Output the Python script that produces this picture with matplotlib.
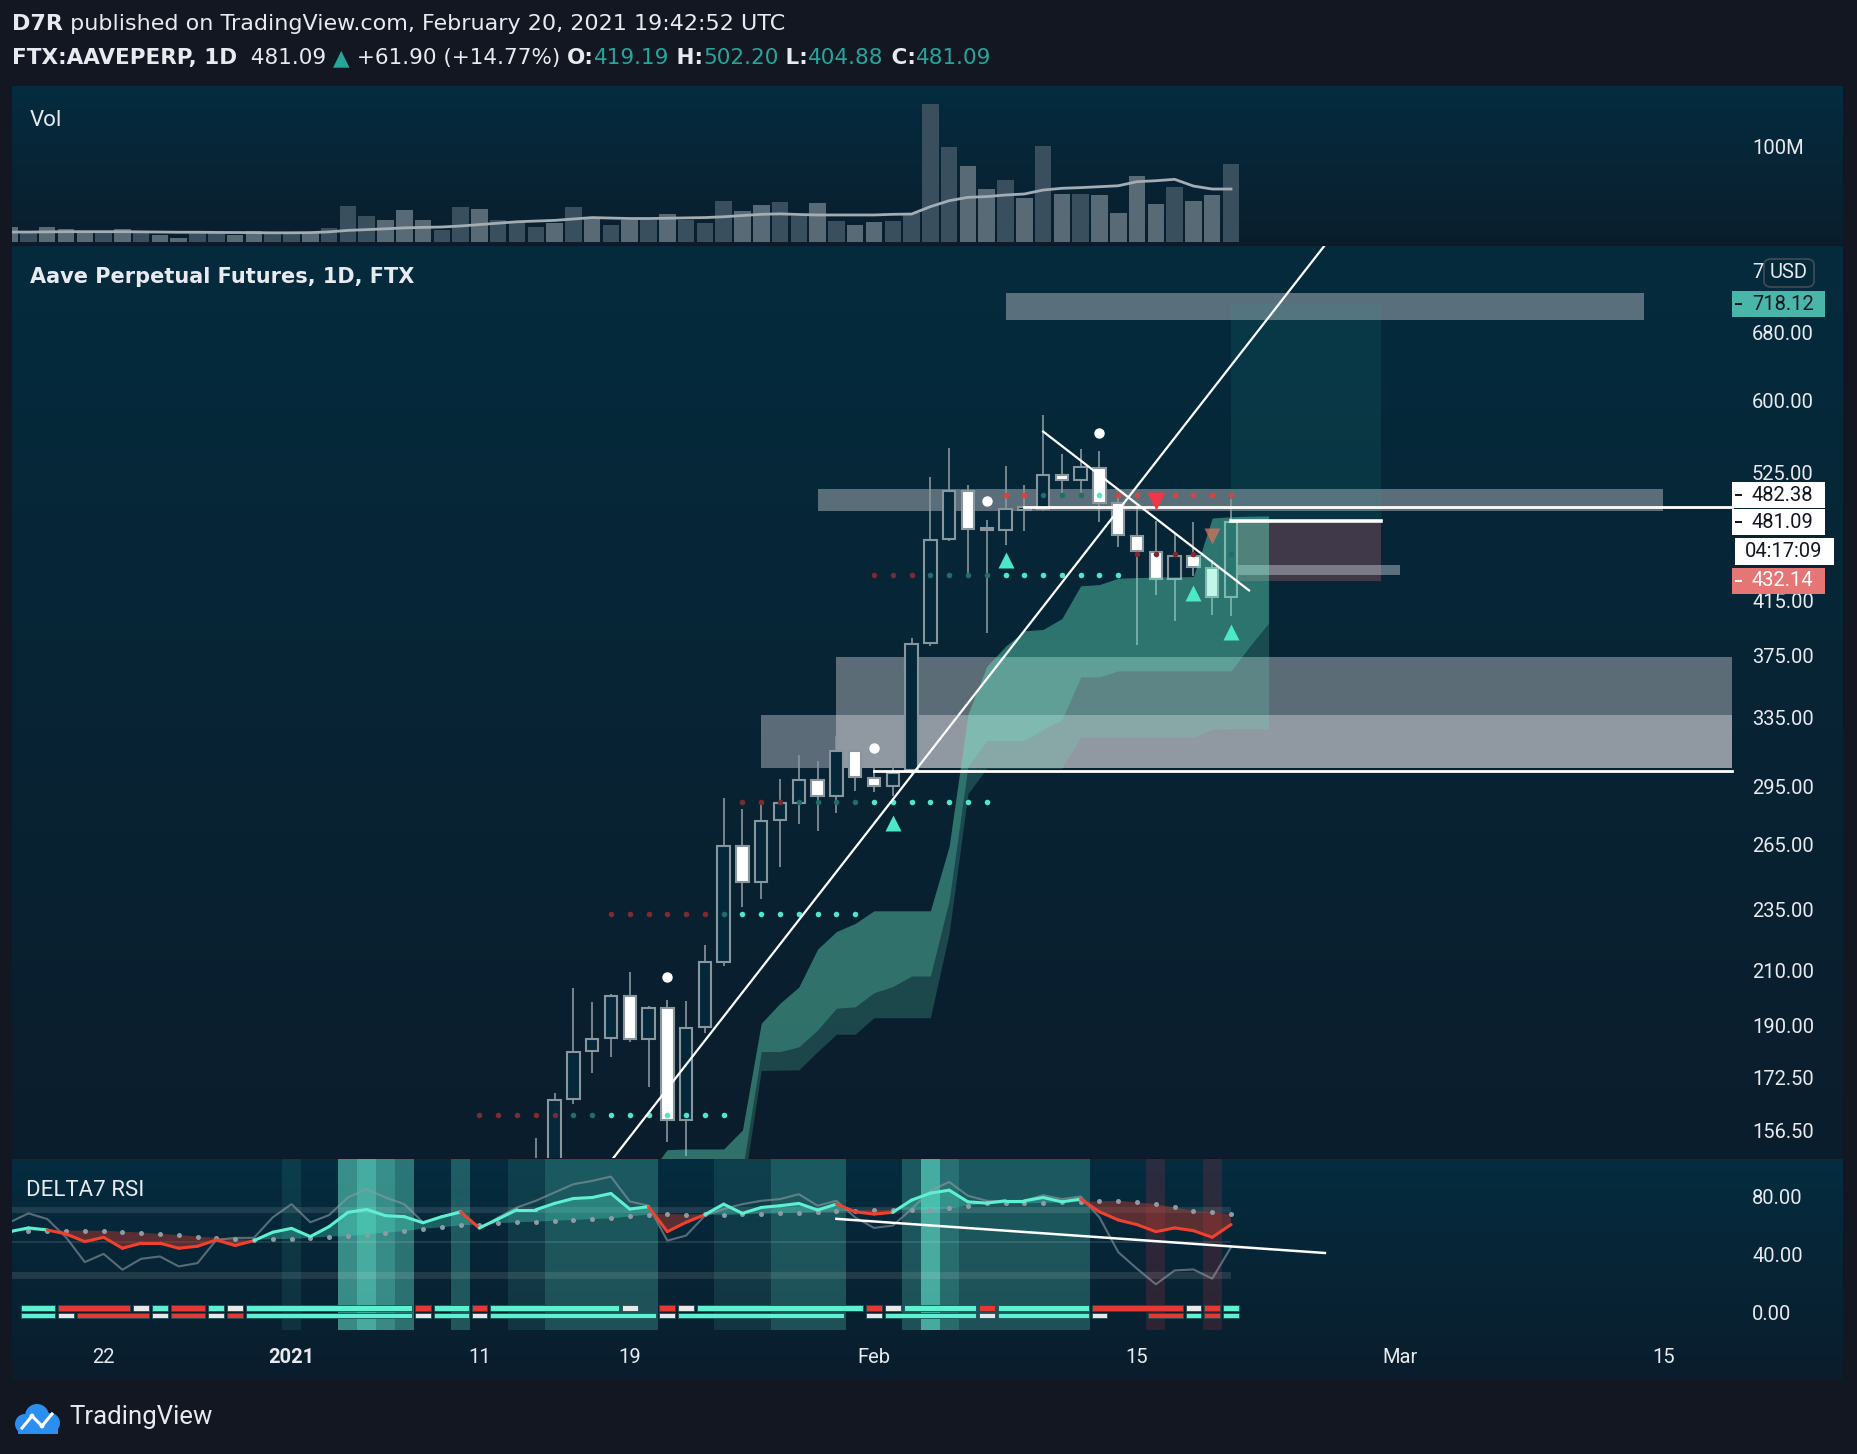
import matplotlib
matplotlib.use("Agg")
import matplotlib.pyplot as plt
import numpy as np
from matplotlib.collections import LineCollection
from matplotlib.colors import to_rgb
from matplotlib.patches import Circle, FancyBboxPatch, Rectangle

plt.rcParams["font.family"] = ["Roboto", "DejaVu Sans"]

# ------------------------------------------------------------------ data
# x values are days counted from 2021-01-01 (Dec 17 = -15, Feb 20 = 50)
days = np.arange(-15, 51)

volume = [16.4, 10.3, 16.4, 14.3, 11.8, 10.3, 14.3, 10.3, 7.8, 4.6,
          10.3, 10.3, 7.8, 12.1, 10.3, 10.3, 10.3, 15.3, 38.9, 28.2,
          23.9, 34.6, 23.9, 13.2, 37.8, 35.7, 23.9, 21.0, 16.4, 20.4,
          37.8, 27.4, 18.5, 23.9, 23.9, 30.3, 23.9, 21.0, 44.3, 33.5,
          40.0, 43.2, 28.2, 42.1, 22.8, 18.5, 21.8, 22.8, 31.1, 148.2,
          102.1, 81.8, 57.1, 66.8, 47.5, 103.2, 51.8, 51.8, 50.7, 31.4,
          71.1, 41.1, 59.3, 44.3, 50.7, 83.9]  # millions
vol_ma = [11.0, 11.0, 11.2, 11.4, 11.4, 11.4, 11.4, 11.2, 11.0, 10.8,
          10.8, 10.6, 10.5, 10.4, 10.2, 10.2, 10.4, 11.2, 12.8, 13.6,
          14.5, 15.5, 16.0, 16.4, 17.5, 19.0, 20.5, 22.0, 22.8, 23.5,
          25.0, 26.5, 26.0, 25.5, 25.5, 25.8, 26.2, 26.5, 27.4, 28.7,
          30.0, 30.5, 29.8, 29.3, 29.3, 29.3, 29.3, 30.0, 30.3, 38.2,
          44.6, 48.2, 49.0, 50.7, 51.8, 56.0, 57.9, 58.6, 59.6, 60.6,
          65.0, 66.0, 67.5, 60.3, 57.1, 57.1]
vol_shade = ("LDLLLDLDLL" "DDLLDDLDDD" "LLLDDLDDDL"
             "DLDLDLDDDL" "LDDLDLLDDD" "DLLDLDLDLL" "LLDLLD")

candle_days = np.arange(13, 51)
c_open = [135, 145, 166.4, 181.8, 186.3, 201.2, 186, 196.7, 160.1, 190,
          214.3, 265, 248.3, 278, 287, 299.7, 290.6, 316.1, 300.8, 295.9,
          305.1, 385.2, 466.7, 509.1, 475, 474.3, 492, 493, 525, 519.7,
          531.9, 498, 469.5, 455.2, 433.6, 452, 442.1, 419.19]
c_high = [155, 168.3, 204.2, 199, 202, 210.3, 197.5, 199.9, 199.5, 221.1,
          289.6, 283.8, 287.7, 300, 313.7, 310.2, 324.8, 317, 307, 311.8,
          388.8, 522.7, 551.3, 515.3, 483.3, 533.7, 515, 585.9, 545.3, 550.4,
          548.5, 504, 498, 482, 471.7, 481.5, 448.7, 502.20]
c_low = [128, 140, 165, 174.8, 180, 185, 170.2, 154, 150, 188,
         212.5, 237.2, 240.8, 255, 276, 272.4, 282, 293.7, 292.9, 290.6,
         303, 383, 465, 436.8, 392.4, 461.5, 473, 491, 505, 508,
         481, 460, 384, 421, 400.9, 436, 405.8, 404.88]
c_close = [147, 166.3, 181.7, 186.1, 201.4, 186, 197, 160.1, 189.6, 214.1,
           265, 248.4, 277.9, 287, 299.7, 290.5, 316.1, 301.3, 295.9, 303.6,
           384.7, 465.8, 509.1, 475.4, 474, 492.7, 493, 525, 519.8, 532.1,
           498.3, 470, 456.6, 433.6, 452.4, 443.4, 419.19, 481.09]

# ichimoku-like cloud (days 19..52)
cloud_days = np.arange(19, 53)
cloud_top = [145, 151.7, 151.9, 151.9, 151.9, 157.3, 191.4, 198.6, 204.6, 219.4,
             226.6, 230.0, 235.4, 235.4, 235.4, 235.4, 265, 338, 369, 383,
             394, 395, 403, 428, 429, 434, 434.5, 435, 435, 435.3,
             484.8, 486, 486.5, 486.7]
cloud_mid = [135, 138, 140, 141, 142, 146, 181.7, 181.7, 183.3, 189.1,
             196.8, 197.3, 202.5, 204.8, 208.8, 208.8, 240, 307, 322, 322,
             322, 328.7, 334.5, 362, 362, 366, 366, 366, 366, 366,
             366, 366, 383, 399.6]
cloud_bot = [130, 132, 134, 135, 136, 140, 175.5, 175.6, 175.7, 181.7,
             187.6, 187.6, 193.4, 193.4, 193.4, 193.4, 226, 292, 306, 306,
             306, 306, 306, 324, 324, 324, 324, 324, 324, 324,
             328.7, 329, 329, 329]

# grey supply / demand zones (None = runs to the price scale)
zone_from = [38, 28, 29, 25]
zone_to = [72, 73, None, None]
zone_low = [697.7, 491.6, 306.3, 306.3]
zone_high = [733.6, 511.2, 375.2, 337.2]

# horizontal rays and trend lines
ray_price = [494.7, 304.5]
ray_from = [39, 31]
trend_d = [(16.0, 56.0), (40.0, 50.96)]
trend_p = [(142.1, 837.4), (568.5, 424.4)]

# long position tool
pos_from, pos_to = 50, 58
entry, target, stop = 482.38, 718.12, 432.14
last_close = 481.09

# dotted levels: price, first day, colour code per day
level_price = [161.6, 234.2, 287.8, 437.0, 506.2, 453.7]
level_start = [10, 17, 24, 31, 38, 45]
level_codes = ["rrrrrggccccccc", "rrrrrrgccccccc", "rrrggggccccccc",
               "rrrggggccccccc", "RRgggcRRRRRRR", "rrrr g"]

dot_days = [20, 31, 37, 43]
dot_price = [208.5, 317.8, 500, 566.8]
up_days = [32, 38, 48, 50]
up_price = [276.9, 448.9, 422.7, 393.0]
down_days = [46]
down_price = [500]
warn_days = [49]
warn_price = [468.7]

price_ticks = [680, 600, 525, 415, 375, 335, 295, 265, 235, 210, 190, 172.5, 156.5]

# DELTA7 RSI
rsi = [57.2, 59.8, 58.4, 55.6, 50.3, 53.3, 45.7, 49.2, 49.2, 45.7,
       47.1, 51.5, 47.6, 51.0, 56.8, 59.5, 53.8, 60.7, 70.6, 72.6,
       68.3, 67.6, 63.4, 67.6, 70.8, 59.8, 66.0, 72.4, 72.4, 76.8,
       80.2, 80.9, 83.7, 72.9, 74.5, 57.2, 63.7, 69.0, 76.3, 69.9,
       74.0, 75.2, 76.8, 72.2, 76.3, 71.0, 69.4, 70.6, 79.1, 83.9,
       86.0, 77.9, 77.0, 78.6, 78.6, 80.9, 77.9, 79.8, 71.0, 65.3,
       62.1, 57.2, 59.8, 57.9, 53.3, 62.1]
rsi_signal = [57.9, 57.9, 57.9, 57.9, 57.9, 57.9, 57.2, 56.6, 55.6, 54.9,
              53.8, 52.9, 52.2, 51.5, 52.0, 52.2, 52.9, 53.8, 54.3, 55.2,
              56.6, 57.5, 59.3, 60.2, 61.6, 62.1, 63.0, 63.7, 64.1, 64.8,
              65.3, 66.0, 66.4, 67.8, 69.0, 69.5, 69.0, 69.3, 68.8, 69.2,
              69.6, 70.0, 70.4, 70.8, 71.2, 71.8, 72.2, 72.4, 72.4, 72.4,
              73.3, 75.2, 76.8, 76.8, 76.8, 77.2, 77.5, 77.8, 78.2, 78.6,
              77.5, 76.3, 74.0, 71.7, 70.6, 69.4]
rsi_raw = [63.7, 69.9, 66.0, 53.3, 36.1, 41.8, 30.8, 38.4, 40.0, 33.1,
           35.4, 51.5, 52.9, 52.9, 67.1, 76.3, 63.7, 68.7, 80.9, 86.7,
           80.9, 76.3, 63.7, 67.1, 71.7, 59.1, 67.1, 74.0, 78.6, 84.4,
           90.1, 92.4, 95.4, 78.2, 75.2, 51.0, 54.5, 68.3, 72.9, 76.3,
           78.6, 79.8, 83.2, 75.2, 78.6, 67.1, 59.8, 61.4, 72.9, 85.5,
           91.7, 82.1, 78.6, 78.2, 78.6, 82.5, 79.8, 81.6, 67.1, 43.0,
           31.5, 20.7, 30.3, 31.0, 24.6, 46.4]
row1 = ("_TTRRRRWTR" "RTWTTTTTTT" "TTRTTRTTTT"
        "TTTW_RWTTT" "TTTTTTRWTT" "TTRTTTTTRR" "RRRWRT")
row2 = ("_TTWRRRRWR" "RWRTTTTTTT" "TTWTTWTTTT"
        "TTTTTWTTTT" "TTTTT_WTTT" "TTWTTTTTW_" "_RRTRT")
hl_days = [0, 3, 4, 5, 6, 9, 12, 13, 14, 15, 16, 17, 18, 19, 23, 24, 25,
           26, 27, 28, 29, 33, 34, 35, 36, 37, 38, 39, 40, 41, 42]
hl_alpha = [0.10, 0.6, 0.78, 0.6, 0.45, 0.3, 0.12, 0.12, 0.28, 0.28, 0.28, 0.28, 0.28, 0.28,
            0.12, 0.12, 0.12, 0.28, 0.28, 0.28, 0.28, 0.28, 0.78, 0.42,
            0.28, 0.28, 0.28, 0.28, 0.28, 0.28, 0.28]
hl_red_days = [46, 49]
rsi_bands = [(69.9, 74.5), (49.0, 51.0), (24.6, 29.2)]
rsi_trend_d = (29.0, 55.0)
rsi_trend_v = (66.1, 42.4)
rsi_ticks = [80, 40, 0]

date_days = [-10, 0, 10, 18, 31, 45, 59, 73]
date_labels = ["22", "2021", "11", "19", "Feb", "15", "Mar", "15"]

# ------------------------------------------------------------------ layout
W, H = 1858, 1454
BG = "#131722"
TXT = "#e8eaef"
TEAL = "#26a69a"
MINT = "#6aecc6"
WIDE = ["DejaVu Sans"]
PANEL_L, PANEL_R = 12, 1843
DAY0_PX, DAY_PX = 291.5, 18.79
PLOT_R = 1732
LABEL_X = 1752


def px2day(x):
    return (x - DAY0_PX) / DAY_PX


XLIM = (px2day(PANEL_L), px2day(PANEL_R))
DAY_R = px2day(PLOT_R)
LAB_D = px2day(LABEL_X)

fig = plt.figure(figsize=(W / 100, H / 100), dpi=100)
fig.patch.set_facecolor(BG)


def add_ax(top, bottom, z=1):
    ax = fig.add_axes([PANEL_L / W, 1 - bottom / H, (PANEL_R - PANEL_L) / W, (bottom - top) / H])
    ax.set_zorder(z)
    ax.set_axis_off()
    return ax


def gradient(top, bottom, c_top, c_bot):
    ax = add_ax(top, bottom, z=0)
    g = np.linspace(0, 1, 256)[:, None, None]
    img = np.array(to_rgb(c_top)) * (1 - g) + np.array(to_rgb(c_bot)) * g
    ax.imshow(img, aspect="auto", extent=[0, 1, 0, 1])
    ax.set_xlim(0, 1)
    ax.set_ylim(0, 1)


def fig_box(x0, y0, x1, y1, fc, z=8, **kw):
    fig.add_artist(Rectangle((x0 / W, 1 - y1 / H), (x1 - x0) / W, (y1 - y0) / H,
                             transform=fig.transFigure, fc=fc, ec="none", zorder=z, **kw))


def fig_text(x, y, s, **kw):
    kw.setdefault("zorder", 9)
    return fig.text(x / W, 1 - y / H, s, **kw)


# ---- header
renderer = fig.canvas.get_renderer()


def text_run(x, y, pieces, size):
    for s, color, weight in pieces:
        t = fig_text(x, y, s, color=color, fontsize=size, fontweight=weight,
                     va="center", ha="left", family=WIDE)
        x += t.get_window_extent(renderer=renderer).width


text_run(12, 24, [("D7R", TXT, "bold"),
                  (" published on TradingView.com, February 20, 2021 19:42:52 UTC", TXT, "normal")], 16)
text_run(12, 58, [("FTX:AAVEPERP, 1D", TXT, "bold"), ("  481.09 ", TXT, "normal"),
                  ("\u25B2", TEAL, "normal"), (" +61.90 (+14.77%) ", TXT, "normal"),
                  ("O:", TXT, "bold"), ("419.19", TEAL, "normal"), (" H:", TXT, "bold"),
                  ("502.20", TEAL, "normal"), (" L:", TXT, "bold"), ("404.88", TEAL, "normal"),
                  (" C:", TXT, "bold"), ("481.09", TEAL, "normal")], 15.5)

# ---- volume pane
gradient(86, 244, "#042c3f", "#0a1e2d")
axv = add_ax(86, 244)
axv.set_xlim(XLIM)
axv.set_ylim(-1.8, 167.5)
shade = {"L": "#586a75", "D": "#394f5d"}
axv.bar(days, volume, width=0.88, color=[shade[s] for s in vol_shade], zorder=2)
axv.plot(days, vol_ma, color="#a3adb3", lw=2, zorder=3)
fig_text(30, 120, "Vol", color=TXT, fontsize=16, va="center")
fig_text(LABEL_X, 149, "100M", color=TXT, fontsize=14.5, va="center")

# ---- price pane
P_TOP, P_BOT = 246, 1158
gradient(P_TOP, P_BOT, "#042b3d", "#0b1d2c")
axp = add_ax(P_TOP, P_BOT)
axp.set_yscale("log")
axp.set_xlim(XLIM)
axp.set_ylim(149.4, 799.7)

for d0, d1, lo, hi in zip(zone_from, zone_to, zone_low, zone_high):
    d1 = DAY_R if d1 is None else d1
    axp.add_patch(Rectangle((d0, lo), d1 - d0, hi - lo, fc="#ebe6ea", alpha=0.372, ec="none", zorder=1))

# position tool
axp.add_patch(Rectangle((pos_from, entry), pos_to - pos_from, target - entry, fc=TEAL, alpha=0.12, ec="none", zorder=1))
axp.add_patch(Rectangle((pos_from, stop), pos_to - pos_from, entry - stop, fc="#c36674", alpha=0.3, ec="none", zorder=1))
axp.add_patch(Rectangle((pos_from + 0.2, 437), 8.8, 8, fc="#c4ccd2", alpha=0.45, ec="none", zorder=2))
axp.plot([pos_from, pos_to], [entry, entry], color="white", lw=2.6, zorder=7)

# candles
for d, o, h, l, c in zip(candle_days, c_open, c_high, c_low, c_close):
    axp.plot([d, d], [l, h], color="#8a969e", lw=1.2, zorder=3, solid_capstyle="butt")
    lo, hi = min(o, c), max(o, c)
    hi = max(hi, lo * 1.005)
    fc = "#ffffff" if c < o else "#04283a"
    axp.add_patch(Rectangle((d - 0.33, lo), 0.66, hi - lo, fc=fc, ec="#8a969e", lw=1.5, zorder=3.5))

# cloud above the candles
axp.fill_between(cloud_days, cloud_bot, cloud_top, color=MINT, alpha=0.195, lw=0, zorder=4)
axp.fill_between(cloud_days, cloud_mid, cloud_top, color=MINT, alpha=0.26, lw=0, zorder=4)

# lines
for p, d0 in zip(ray_price, ray_from):
    axp.plot([d0, DAY_R], [p, p], color="white", lw=2.0, zorder=6)
for dd, pp in zip(trend_d, trend_p):
    axp.plot(dd, pp, color="white", lw=1.6, zorder=6)

dot_col = {"r": "#7e2a31", "R": "#e0403c", "g": "#1f6e69", "c": "#4de8c8"}
for lvl, start, codes in zip(level_price, level_start, level_codes):
    for i, ch in enumerate(codes):
        if ch in dot_col:
            axp.plot(start + i, lvl, "o", ms=4, color=dot_col[ch], mec="none", zorder=5)

axp.plot(dot_days, dot_price, "o", ms=7.5, color="white", mec="none", ls="none", zorder=6)
axp.plot(up_days, up_price, "^", ms=12, color="#4de8c8", mec="none", ls="none", zorder=6)
axp.plot(down_days, down_price, "v", ms=13, color="#f23645", mec="none", ls="none", zorder=6)
axp.plot(warn_days, warn_price, "v", ms=12, color="#d0705c", alpha=0.8, mec="none", ls="none", zorder=6)

fig_text(30, 277, "Aave Perpetual Futures, 1D, FTX", color=TXT, fontsize=15, fontweight="bold",
         va="center", family=WIDE)

for p in price_ticks:
    axp.text(LAB_D, p, f"{p:.2f}", color=TXT, fontsize=14.5, va="center", ha="left")


def price_px(p):
    return H - axp.transData.transform((0, p))[1]


def tag(y, text, fc, tc, x1=1825, h=26, dash=True):
    fig_box(PLOT_R, y - h / 2, x1, y + h / 2, fc)
    if dash:
        fig_box(PLOT_R + 3, y - 1, PLOT_R + 10, y + 1, tc, z=9)
    fig_text(LABEL_X, y, text, color=tc, fontsize=14.5, va="center", ha="left")


tag(price_px(target), f"{target:.2f}", "#4ab6aa", BG)
y_last = price_px(last_close)
tag(y_last, f"{last_close:.2f}", "#ffffff", BG)
tag(y_last - 27, f"{entry:.2f}", "#ffffff", BG)
fig_box(1735, y_last + 16, 1834, y_last + 43, "#ffffff")
fig_text(1784, y_last + 29.5, "04:17:09", color=BG, fontsize=14.5, va="center", ha="center")
tag(price_px(stop), f"{stop:.2f}", "#e67676", "#ffffff")

# currency badge covering the top price label (only its first digit shows)
fig_text(LABEL_X, 272, "7", color=TXT, fontsize=14.5, va="center", ha="left")
fig.add_artist(FancyBboxPatch((1764 / W, 1 - 287 / H), 50 / W, 28 / H,
                              boxstyle="round,pad=0,rounding_size=0.004",
                              transform=fig.transFigure, fc="#06293a", ec="#3b4a55", lw=1.3, zorder=8))
fig_text(1789, 272, "USD", color=TXT, fontsize=14.5, va="center", ha="center")

# ---- RSI pane
R_TOP, R_BOT = 1159, 1330
gradient(R_TOP, 1380, "#042c3f", "#0a1d2c")
axr = add_ax(R_TOP, R_BOT)
axr.set_xlim(XLIM)
axr.set_ylim(-11, 107.6)

for d, a in zip(hl_days, hl_alpha):
    axr.axvspan(d - 0.5, d + 0.5, color="#5ad2be", alpha=a, lw=0, zorder=1)
for d in hl_red_days:
    axr.axvspan(d - 0.5, d + 0.5, color="#f23645", alpha=0.16, lw=0, zorder=1)
for lo, hi in rsi_bands:
    axr.add_patch(Rectangle((XLIM[0], lo), days[-1] - XLIM[0], hi - lo, fc="white", alpha=0.1, ec="none", zorder=1.5))

rsi_a = np.array(rsi)
sig_a = np.array(rsi_signal)
axr.fill_between(days, rsi_a, sig_a, where=rsi_a >= sig_a, interpolate=True, color="#4de8c8", alpha=0.3, lw=0, zorder=2)
axr.fill_between(days, rsi_a, sig_a, where=rsi_a < sig_a, interpolate=True, color="#c0392b", alpha=0.45, lw=0, zorder=2)
axr.plot(days, rsi_raw, color="#8f9ba3", lw=1.5, alpha=0.6, zorder=2.5)
axr.plot(days, rsi_signal, "o", ms=3.6, color="#8f9ba3", mec="none", ls="none", zorder=3)
segs = [[(days[i], rsi[i]), (days[i + 1], rsi[i + 1])] for i in range(len(days) - 1)]
seg_col = ["#5ef0d0" if rsi[i + 1] >= rsi_signal[i + 1] else "#f0402e" for i in range(len(days) - 1)]
axr.add_collection(LineCollection(segs, colors=seg_col, linewidths=2.2, zorder=4, capstyle="round"))
axr.plot(rsi_trend_d, rsi_trend_v, color="white", lw=1.8, zorder=5)

block_col = {"T": "#5ef0d0", "R": "#e53935", "W": "#e8e8e8"}
for codes, (lo, hi) in zip([row1, row2], [(2.3, 6.2), (-2.8, 1.1)]):
    i = 0
    while i < len(codes):
        j = i
        while j + 1 < len(codes) and codes[j + 1] == codes[i]:
            j += 1
        if codes[i] in block_col:
            axr.add_patch(Rectangle((days[i] - 0.42, lo), days[j] - days[i] + 0.84, hi - lo,
                                    fc=block_col[codes[i]], ec="#1b4f55", lw=0.6, zorder=4))
        i = j + 1

fig_text(26, 1190, "DELTA7 RSI", color=TXT, fontsize=16, va="center")
for v in rsi_ticks:
    axr.text(LAB_D, v, f"{v:.2f}", color=TXT, fontsize=14.5, va="center", ha="left")

xt = axr.get_xaxis_transform()
for d, s in zip(date_days, date_labels):
    axr.text(d, -0.158, s, transform=xt, color=TXT, fontsize=14.5, ha="center", va="center",
             fontweight="bold" if s == "2021" else "normal")

# ---- TradingView logo
axl = fig.add_axes([14 / W, 1 - 1436 / H, 48 / W, 36 / H])
axl.set_axis_off()
axl.set_xlim(0, 48)
axl.set_ylim(0, 36)
blue = "#2a8ff0"
for cx, cy, r in [(11, 12, 10), (23, 20, 12), (36, 13, 10)]:
    axl.add_patch(Circle((cx, cy), r, fc=blue, ec="none"))
axl.add_patch(Rectangle((4, 2), 40, 10, fc=blue, ec="none"))
axl.plot([8, 18, 28, 38], [8, 20, 10, 22], color="white", lw=2.2)
for cx, cy in [(18, 20), (28, 10)]:
    axl.add_patch(Circle((cx, cy), 2.4, fc="white", ec="none"))
fig_text(69, 1417, "TradingView", color=TXT, fontsize=18.5, va="center")

fig.savefig("out.png", dpi=100, facecolor=BG)
